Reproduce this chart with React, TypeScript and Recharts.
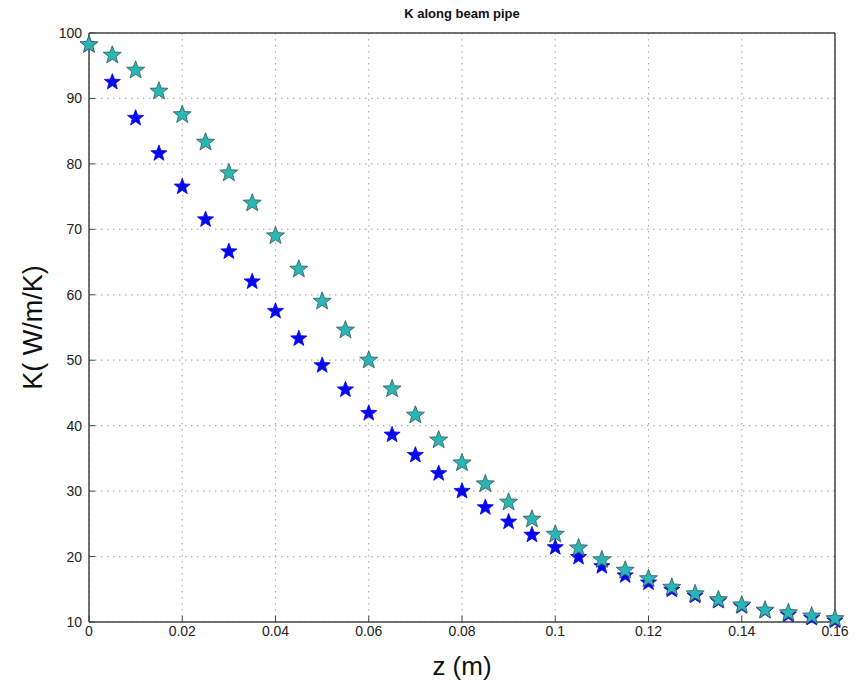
import React from 'react';
import { ScatterChart, Scatter, XAxis, YAxis, CartesianGrid, Label } from 'recharts';

// positions along the pipe (m)
const zValues = [
  0, 0.005, 0.01, 0.015, 0.02, 0.025, 0.03, 0.035, 0.04, 0.045, 0.05, 0.055, 0.06, 0.065, 0.07, 0.075,
  0.08, 0.085, 0.09, 0.095, 0.1, 0.105, 0.11, 0.115, 0.12, 0.125, 0.13, 0.135, 0.14, 0.145, 0.15, 0.155, 0.16,
];

const kBlue = [
  98.2, 92.5, 87.0, 81.6, 76.5, 71.5, 66.6, 62.0, 57.5, 53.3, 49.2, 45.5, 41.9, 38.6, 35.5, 32.7,
  30.0, 27.5, 25.3, 23.3, 21.4, 19.9, 18.5, 17.1, 16.0, 14.9, 14.0, 13.2, 12.4, 11.7, 11.1, 10.6, 10.2,
];

const kCyan = [
  98.2, 96.6, 94.3, 91.1, 87.5, 83.3, 78.6, 74.0, 69.0, 63.9, 59.0, 54.6, 50.0, 45.6, 41.6, 37.8,
  34.3, 31.1, 28.3, 25.7, 23.4, 21.3, 19.5, 17.9, 16.6, 15.3, 14.3, 13.4, 12.6, 11.8, 11.4, 10.9, 10.5,
];

const xTicks = [0, 0.02, 0.04, 0.06, 0.08, 0.1, 0.12, 0.14, 0.16];
const yTicks = [10, 20, 30, 40, 50, 60, 70, 80, 90, 100];

const blueData = zValues.map((z, i) => ({ z, k: kBlue[i] }));
const cyanData = zValues.map((z, i) => ({ z, k: kCyan[i] }));

const FONT = '"Liberation Sans", Arial, Helvetica, sans-serif';

const starPoints = (cx: number, cy: number, r: number) => {
  const inner = r * 0.42;
  const pts: string[] = [];
  for (let i = 0; i < 10; i++) {
    const rad = i % 2 === 0 ? r : inner;
    const a = -Math.PI / 2 + (i * Math.PI) / 5;
    pts.push(`${cx + rad * Math.cos(a)},${cy + rad * Math.sin(a)}`);
  }
  return pts.join(' ');
};

const makeStar = (fill: string, stroke: string, r: number) => (props: any) => {
  const { cx, cy } = props;
  if (cx == null || cy == null) return <g />;
  return <polygon points={starPoints(cx, cy, r)} fill={fill} stroke={stroke} strokeWidth={0.8} />;
};

const formatX = (v: number) => (v === 0 ? '0' : String(v));
const noLabel = () => <g />;

const App: React.FC = () => {
  const tickStyle = { fontSize: 14, fill: '#222', fontFamily: FONT };
  return (
    <div style={{ position: 'absolute', left: 0, top: 0, width: 866, height: 681, background: '#fff' }}>
      <ScatterChart width={866} height={681} margin={{ top: 0, right: 0, left: 0, bottom: 0 }}>
        <text x={462} y={18} textAnchor="middle" fontFamily={FONT} fontWeight="bold" fontSize={13} fill="#111">
          K along beam pipe
        </text>
        <CartesianGrid xAxisId="b" yAxisId="l" stroke="#b0b0b0" strokeDasharray="1.5 4.5" strokeWidth={1.2} />
        <XAxis
          xAxisId="b"
          type="number"
          dataKey="z"
          domain={[0, 0.16]}
          ticks={xTicks}
          tickFormatter={formatX}
          orientation="bottom"
          height={59}
          tick={tickStyle}
          tickSize={-6}
          tickMargin={10}
          axisLine={{ stroke: '#444', strokeWidth: 1.5 }}
          tickLine={{ stroke: '#444' }}
        >
          <Label value="z (m)" position="insideBottom" offset={6} style={{ fontSize: 26, fontFamily: FONT, fill: '#111' }} />
        </XAxis>
        <XAxis
          xAxisId="t"
          type="number"
          dataKey="z"
          domain={[0, 0.16]}
          ticks={xTicks}
          orientation="top"
          height={33}
          tick={noLabel}
          tickSize={-6}
          axisLine={{ stroke: '#444', strokeWidth: 1.5 }}
          tickLine={{ stroke: '#444' }}
        />
        <YAxis
          yAxisId="l"
          type="number"
          dataKey="k"
          domain={[10, 100]}
          ticks={yTicks}
          orientation="left"
          width={89}
          tick={tickStyle}
          tickSize={-6}
          tickMargin={13}
          axisLine={{ stroke: '#444', strokeWidth: 1.5 }}
          tickLine={{ stroke: '#444' }}
        >
          <Label
            value="K( W/m/K)"
            angle={-90}
            position="insideLeft"
            offset={32}
            style={{ fontSize: 27, fontFamily: FONT, fill: '#111', textAnchor: 'middle' }}
          />
        </YAxis>
        <YAxis
          yAxisId="r"
          type="number"
          dataKey="k"
          domain={[10, 100]}
          ticks={yTicks}
          orientation="right"
          width={31}
          tick={noLabel}
          tickSize={-6}
          axisLine={{ stroke: '#444', strokeWidth: 1.5 }}
          tickLine={{ stroke: '#444' }}
        />
        <Scatter
          data={blueData}
          xAxisId="b"
          yAxisId="l"
          shape={makeStar('#0606ee', '#0606ee', 8.5)}
          isAnimationActive={false}
        />
        <Scatter
          data={cyanData}
          xAxisId="b"
          yAxisId="l"
          shape={makeStar('#28b6b6', '#3a5555', 9.5)}
          isAnimationActive={false}
        />
      </ScatterChart>
    </div>
  );
};

export default App;
